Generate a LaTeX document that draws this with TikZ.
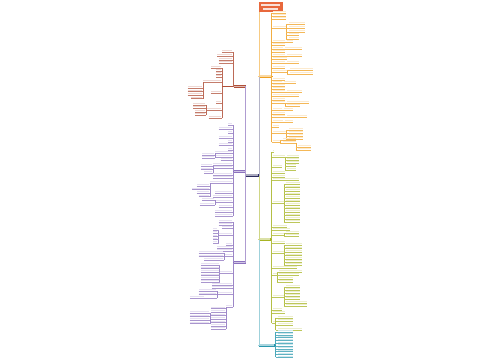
\documentclass[tikz,border=0pt]{standalone}
\definecolor{cRoot}{HTML}{E8683C}
\definecolor{cO}{HTML}{F0A020}
\definecolor{cDR}{HTML}{B0503A}
\definecolor{cNv}{HTML}{2B2C5E}
\definecolor{cPu}{HTML}{8C72BE}
\definecolor{cOl}{HTML}{A7B423}
\definecolor{cTe}{HTML}{2A98AE}
\tikzset{ln/.style={line width=0.3pt},
  bbox/.style={inner sep=0pt,minimum width=#1,minimum height=3pt},
  bbox/.default=10pt}
% right leaf: spine x, text x1, x2, y, colour
\newcommand\RL[5]{\fill[#5!22] (#2,#4-1.7) rectangle (#3,#4-0.6);\draw[#5!75,ln] (#1,#4) -- (#3,#4);}
% left leaf: spine x, text x1, x2, y, colour
\newcommand\LL[5]{\fill[#5!22] (#2,#4-1.7) rectangle (#3,#4-0.6);\draw[#5!75,ln] (#2,#4) -- (#1,#4);}
% spine: x, y1, y2, colour
\newcommand\SP[4]{\draw[#4!85,ln] (#1,#2) -- (#1,#3);}
\begin{document}
\begin{tikzpicture}[x=1pt,y=-1pt]
\fill[white] (0,0) rectangle (500,360);
\useasboundingbox (0,0) rectangle (500,360);
% main boxes
\node[bbox=24pt,minimum height=10pt,fill=cRoot] (root) at (270.5,7) {};
\node[bbox=13pt,fill=cO] (ob) at (265,76) {};
\node[bbox=13pt,fill=cNv] (nv) at (252,175) {};
\node[bbox=12pt,fill=cOl] (ol) at (264.5,239) {};
\node[bbox=16pt,fill=cTe] (te) at (266.5,345) {};
\node[bbox=12pt,fill=cDR] (dr) at (239.5,86.5) {};
\node[bbox=12pt,fill=cPu] (pa) at (239.5,171.5) {};
\node[bbox=12pt,fill=cPu] (pb) at (239.5,262.5) {};
% white text in boxes
\fill[white!80!cRoot] (261,4.2) rectangle (280,5.6);
\fill[white!80!cRoot] (263,8.2) rectangle (278,9.6);
\foreach \n in {ob,nv,ol,te,dr,pa,pb}{
  \fill[white,opacity=.6] ([xshift=1pt,yshift=-1pt]\n.north west) rectangle ([xshift=-1pt,yshift=1pt]\n.south east);}
% trunk connectors
\draw[ln,draw=cTe!45] ([xshift=1pt]root.south west) |- (te.west);
\draw[ln,draw=cOl!55] ([xshift=1pt]root.south west) |- (ol.west);
\draw[ln,draw=cNv!35] ([xshift=1pt]root.south west) |- (nv.east);
\draw[ln,draw=cO!55] ([xshift=1pt]root.south west) |- (ob.west);
% navy to its left children
\draw[ln,draw=cPu!70] (nv.west) |- (dr.east);
\draw[ln,draw=cPu!70] (nv.west) |- (pa.east);
\draw[ln,draw=cPu!70] (nv.west) |- (pb.east);
\begin{scope}[shift={(271.5,0)},xscale=1.18,shift={(-271.5,0)}]
% ---------------- orange branch
\coordinate (os) at (271.5,76);
\SP{271.5}{13}{142}{cO}
\foreach \b/\c in {284/13,284/16,284/19,284/28,283/42,283/45,281/49,283/52,283/56,285/59,283/63,283/68,285/72,283/80,280/83,283/86,283/89,283/92,295/96,283/100,283/103,280/110,283/114,283/117,281/122,278/127,284/133,279/142}
  {\RL{271.5}{273}{\b}{\c}{cO}}
\SP{284}{24}{39}{cO}
\foreach \b/\c in {300/24,300/28,300/32,295/35,295/39}{\RL{284}{286}{\b}{\c}{cO}}
\RL{283}{285}{290}{42}{cO}
\RL{281}{283}{297}{49}{cO}
\RL{283}{285}{297}{56}{cO}
\RL{283}{285}{295}{63}{cO}
\SP{285}{70}{74}{cO}
\RL{285}{287}{307}{70}{cO}\RL{285}{287}{307}{74}{cO}
\RL{280}{282}{292}{83}{cO}
\RL{283}{285}{297}{92}{cO}
\SP{283}{103}{106}{cO}
\RL{283}{285}{303}{103}{cO}\RL{283}{285}{296}{106}{cO}
\RL{280}{282}{290}{110}{cO}
\RL{283}{285}{302}{117}{cO}
\RL{281}{283}{290}{122}{cO}
\SP{284}{130}{139}{cO}
\foreach \c in {130,133,136,139}{\RL{284}{286}{298}{\c}{cO}}
\SP{279}{140}{143}{cO}
\RL{279}{281}{292}{140}{cO}\RL{279}{281}{292}{143}{cO}
\SP{292}{143}{150}{cO}
\RL{292}{294}{305}{147}{cO}\RL{292}{294}{305}{150}{cO}
% ---------------- olive branch
\coordinate (ols) at (271.5,239);
\SP{271.5}{152}{323}{cOl}
\foreach \b/\c in {274/152,283/157,280/167,283/173,283/177,295/180,282/203,285/227,287/230,282/235,283/243,282/253,293/268,276/275,282/297,280/310,283/313,275/323}
  {\RL{271.5}{273}{\b}{\c}{cOl}}
\SP{283}{157}{170}{cOl}
\foreach \b/\c in {295/157,295/160,295/163,292/166,292/170}{\RL{283}{285}{\b}{\c}{cOl}}
\SP{282}{184}{222}{cOl}
\foreach \c in {184,187.5,191,194.5,198,201.5,205,208.5,212,215.5,219,222}{\RL{282}{284}{296}{\c}{cOl}}
\SP{282}{233}{236}{cOl}
\RL{282}{284}{295}{233}{cOl}\RL{282}{284}{295}{236}{cOl}
\SP{282}{245}{265}{cOl}
\foreach \c in {245,248.5,252,255.5,259,262,265}{\RL{282}{284}{297}{\c}{cOl}}
\SP{276}{272}{282}{cOl}
\foreach \b/\c in {297/272,295/275,290/279,290/282}{\RL{276}{278}{\b}{\c}{cOl}}
\SP{282}{287}{306}{cOl}
\foreach \b/\c in {296/287,296/290,296/293,296/296,296/299,302/303,302/306}{\RL{282}{284}{\b}{\c}{cOl}}
\SP{275}{318}{330}{cOl}
\foreach \b/\c in {290/318,290/321,290/325,297/330}{\RL{275}{277}{\b}{\c}{cOl}}
% ---------------- teal branch
\coordinate (ts) at (275,345);
\SP{275}{332}{357.3}{cTe}
\foreach \c in {332,334.8,337.6,340.4,343.2,346,348.8,351.6,354.4,357.2}{\RL{275}{277}{290}{\c}{cTe}}
\end{scope}
\draw[ln,cO] (ob.east) -- (os);
\draw[ln,cOl] (ol.east) -- (ols);
\draw[ln,cTe] (te.east) -- (ts);
\begin{scope}[shift={(246,0)},xscale=1.1,shift={(-246,0)}]
% ---------------- dark red branch
\coordinate (ds) at (224,86.5);
\SP{234}{52}{86.5}{cDR}
\foreach \a/\c in {224/52,220/56,221/60,221/63}{\LL{234}{\a}{233}{\c}{cDR}}
\SP{224}{68}{118}{cDR}
\foreach \a/\c in {214/68,219/71,219/74,219/77,207/82,214/93,219/103,210/110,212/118}{\LL{224}{\a}{223}{\c}{cDR}}
\SP{207}{82}{98.5}{cDR}
\foreach \a/\c in {193/88,193/91.5,193/95,196/98.5}{\LL{207}{\a}{206}{\c}{cDR}}
\SP{210}{105}{115}{cDR}
\foreach \a/\c in {198/105,198/108,200/112,200/115}{\LL{210}{\a}{209}{\c}{cDR}}
% ---------------- purple branch 1
\coordinate (pas) at (234,171.5);
\SP{234}{125}{216}{cPu}
\foreach \a/\c in {230/125,221/129,230/133,221/138,230/142,221/145,230/150,218/153,218/157,223/160,216/165,216/168,216/175,216/178,213/183,218/193,216/197,218/202,221/207,218/212,218/216}
  {\LL{234}{\a}{233}{\c}{cPu}}
\SP{218}{153}{158}{cPu}
\LL{218}{206}{217}{155}{cPu}\LL{218}{206}{217}{158}{cPu}
\SP{216}{166}{173}{cPu}
\foreach \a/\c in {205/166,205/169.5,208/173}{\LL{216}{\a}{215}{\c}{cPu}}
\SP{213}{183}{196.5}{cPu}
\foreach \a/\c in {201/186,197/189.5,201/193,203/196.5}{\LL{213}{\a}{212}{\c}{cPu}}
\SP{218}{200}{205}{cPu}
\LL{218}{206}{217}{200}{cPu}\LL{218}{204}{217}{205}{cPu}
% ---------------- purple branch 2
\coordinate (pbs) at (234,262.5);
\SP{234}{222}{307}{cPu}
\foreach \a/\c in {221/222,221/225,224/228,221/235,228/245,220/248,220/251,226/256,222/273,215/285,215/288,220/294,228/307}
  {\LL{234}{\a}{233}{\c}{cPu}}
\SP{221}{230}{243}{cPu}
\foreach \c in {230,233,236.5,239.5,243}{\LL{221}{216}{220}{\c}{cPu}}
\SP{226}{253}{260}{cPu}
\foreach \a/\c in {203/253,203/256.5,208/260}{\LL{226}{\a}{225}{\c}{cPu}}
\SP{222}{265}{282}{cPu}
\foreach \c in {265,268.5,272,275.5,279,282}{\LL{222}{205}{221}{\c}{cPu}}
\SP{220}{291}{298}{cPu}
\LL{220}{203}{219}{291}{cPu}\LL{220}{203}{219}{294.5}{cPu}\LL{220}{195}{208}{298}{cPu}
\SP{228}{307}{329}{cPu}
\foreach \c in {308.5,312,315.5,319,322.5,326,329}{\LL{228}{214}{227}{\c}{cPu}}
\SP{213}{313}{323.5}{cPu}
\foreach \c in {313,316.5,320,323.5}{\LL{213}{195}{212}{\c}{cPu}}
\end{scope}
\draw[ln,cDR] (dr.west) -- (ds);
\draw[ln,cPu] (pa.west) -- (pas);
\draw[ln,cPu] (pb.west) -- (pbs);
\end{tikzpicture}
\end{document}
